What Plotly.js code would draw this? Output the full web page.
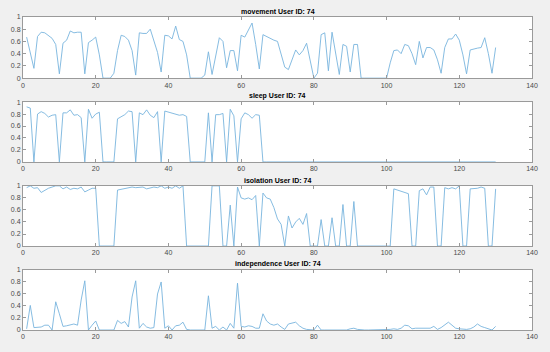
<!DOCTYPE html>
<html>
<head>
<meta charset="utf-8">
<script src="https://cdn.plot.ly/plotly-3.0.1.min.js"></script>
<style>
  html, body { margin: 0; padding: 0; background: #f0f0f0; }
  #chart { width: 550px; height: 352px; }
</style>
</head>
<body>
<div id="chart"></div>
<script>
const panelTitles = ['movement User ID: 74', 'sleep User ID: 74', 'isolation User ID: 74', 'independence User ID: 74'];

const movement = [
  0.67,0.4,0.16,0.68,0.75,0.74,0.7,0.65,0.55,0.07,
  0.57,0.62,0.77,0.74,0.75,0.75,0.07,0.58,0.62,0.67,
  0.38,0,0,0,0.08,0.45,0.7,0.68,0.62,0.45,
  0.05,0.74,0.73,0.73,0.8,0.62,0.42,0.1,0.7,0.69,
  0.64,0.85,0.63,0.6,0.38,0,0,0,0,0.05,
  0.43,0.06,0.38,0.66,0.6,0.17,0.45,0.45,0.12,0.7,
  0.67,0.78,0.9,0.55,0.15,0.71,0.68,0.64,0.62,0.6,
  0.4,0.18,0.14,0.3,0.46,0.38,0.45,0.57,0.3,0,
  0.08,0.71,0.74,0.12,0.75,0.4,0.06,0.55,0.52,0.1,
  0.55,0.55,0,0,0,0,0,0,0,0,
  0.25,0.45,0.46,0.4,0.55,0.53,0.4,0.22,0.6,0.33,
  0.5,0.5,0.46,0.3,0.08,0.5,0.64,0.64,0.72,0.62,
  0.38,0.07,0.46,0.48,0.49,0.5,0.66,0.4,0.08,0.5
];

const sleep = [
  0.92,0.9,0,0.8,0.84,0.81,0.75,0.78,0.79,0,
  0.82,0.82,0.87,0.78,0.79,0.74,0,0.88,0.73,0.8,
  0.83,0,0,0,0,0.72,0.75,0.79,0.85,0.84,
  0,0.82,0.79,0.87,0.78,0.74,0.84,0,0.85,0.83,
  0.81,0.8,0.78,0.79,0.76,0,0,0,0,0,
  0.82,0,0.79,0.79,0.81,0,0.88,0.77,0,0.72,
  0.82,0.79,0.73,0.79,0.78,0,0,0,0,0,
  0,0,0,0,0,0,0,0,0,0,
  0,0,0,0,0,0,0,0,0,0,
  0,0,0,0,0,0,0,0,0,0,
  0,0,0,0,0,0,0,0,0,0,
  0,0,0,0,0,0,0,0,0,0,
  0,0,0,0,0,0,0,0,0,0
];

const isolation = [
  0.97,1,0.96,0.97,0.89,0.93,0.96,0.98,1,1,
  0.95,0.98,0.94,0.96,0.95,0.98,0.9,0.93,0.96,0.96,
  0,0,0,0,0,0.93,0.94,0.96,0.97,0.98,
  0.97,0.98,0.98,0.95,0.97,0.98,0.97,1,0.96,0.98,
  0.96,1,0.96,1,0,0,0,0,0,0,
  0,1,1,1,0,0,0.68,0,0.98,0.8,
  0.78,0.8,0.77,0.84,0,0.88,0.8,0.78,0.64,0.45,
  0.36,0,0.5,0.3,0.4,0.46,0.36,0.54,0,0,
  0,0.44,0,0,0.47,0,0,0.69,0,0,
  0.74,0,0,0,0,0,0,0,0,0,
  0,0.95,0.93,0.92,0.89,0.87,0,0,0.92,0.95,
  0.85,0.98,0.98,0,0,0.97,0.95,0.97,0.95,1,
  0,0,0.95,0.95,0.96,0.98,0.96,0,0,0.95
];

const independence = [
  0.02,0.41,0.04,0.04,0.05,0.08,0.08,0,0.47,0.27,
  0.06,0.07,0.09,0.1,0.08,0.5,0.82,0,0.08,0.15,
  0,0,0,0,0,0.16,0.11,0.14,0.05,0.55,
  0.82,0.03,0.11,0.05,0.03,0.04,0.6,0.8,0.03,0.07,
  0,0.07,0.08,0.13,0.01,0,0,0,0,0,
  0.57,0.03,0.06,0,0.05,0,0.11,0.03,0.78,0.06,
  0.05,0.07,0.06,0.03,0.03,0.27,0.15,0.1,0.08,0.1,
  0.05,0.01,0.1,0.12,0.13,0.07,0.03,0.01,0,0,
  0.08,0,0,0,0.01,0,0.01,0.01,0,0.02,
  0.03,0.01,0,0,0,0,0,0.01,0,0.01,
  0.01,0.02,0.01,0.03,0.08,0.07,0.02,0.03,0.03,0.04,
  0.04,0.03,0.06,0.01,0.04,0.08,0.13,0.08,0.03,0.02,
  0.01,0.01,0.02,0.05,0.1,0.06,0.04,0.02,0,0.06
];

// day index 1..130 for every series
const days = movement.map((_, i) => i + 1);

const series = [movement, sleep, isolation, independence];

// panel vertical extents in paper fraction [bottom, top]
const domains = [[0.778, 0.952], [0.540, 0.710], [0.301, 0.472], [0.0625, 0.233]];

const lineColor = '#78b4de';
const axisColor = '#9a9a9a';
const tickFont = { family: 'Liberation Sans, Arial, sans-serif', size: 7, color: '#4a4a4a' };

const traces = series.map((vals, i) => ({
  x: days,
  y: vals,
  type: 'scatter',
  mode: 'lines',
  line: { color: lineColor, width: 0.9 },
  xaxis: i === 0 ? 'x' : 'x' + (i + 1),
  yaxis: i === 0 ? 'y' : 'y' + (i + 1),
  hoverinfo: 'skip',
  showlegend: false,
}));

const layout = {
  width: 550,
  height: 352,
  margin: { l: 23, r: 18, t: 0, b: 0 },
  paper_bgcolor: '#f0f0f0',
  plot_bgcolor: '#ffffff',
  showlegend: false,
  annotations: [],
};

series.forEach((_, i) => {
  const suffix = i === 0 ? '' : String(i + 1);
  layout['xaxis' + suffix] = {
    domain: [0, 1],
    anchor: 'y' + suffix,
    range: [0, 140],
    dtick: 20,
    tick0: 0,
    ticks: 'inside',
    ticklen: 3,
    tickcolor: axisColor,
    showline: true,
    linecolor: axisColor,
    linewidth: 1,
    mirror: 'ticks',
    showgrid: false,
    zeroline: false,
    tickfont: tickFont,
  };
  layout['yaxis' + suffix] = {
    domain: domains[i],
    anchor: 'x' + suffix,
    range: [0, 1],
    dtick: 0.2,
    tick0: 0,
    ticks: 'inside',
    ticklen: 3,
    tickcolor: axisColor,
    showline: true,
    linecolor: axisColor,
    linewidth: 1,
    mirror: 'ticks',
    showgrid: false,
    zeroline: false,
    tickfont: tickFont,
  };
  layout.annotations.push({
    text: '<b>' + panelTitles[i] + '</b>',
    xref: 'paper',
    yref: 'paper',
    x: 0.5,
    y: domains[i][1],
    xanchor: 'center',
    yanchor: 'bottom',
    showarrow: false,
    font: { family: 'Liberation Sans, Arial, sans-serif', size: 7, color: '#000000' },
  });
});

Plotly.newPlot('chart', traces, layout, { staticPlot: true, displayModeBar: false });
</script>
</body>
</html>
